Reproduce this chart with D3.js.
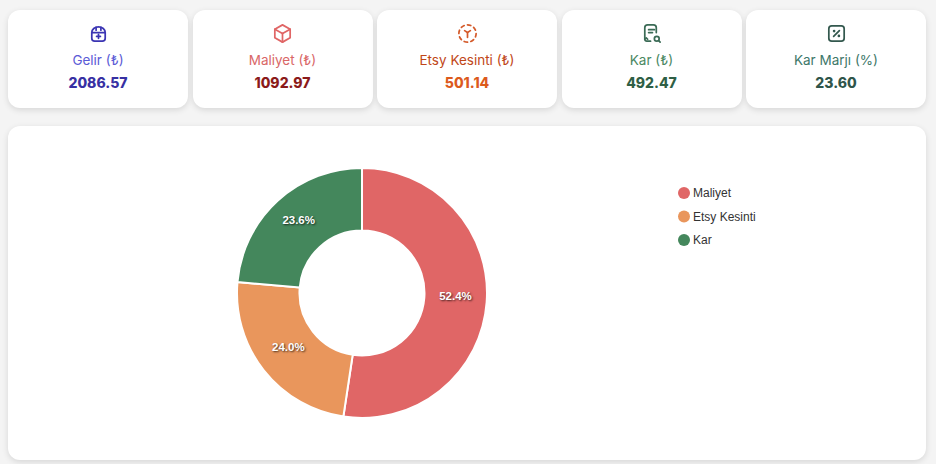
<!DOCTYPE html>
<html lang="tr">
<head>
    <meta charset="UTF-8">
    <title>Kar özeti</title>
    <script src="https://d3js.org/d3.v7.min.js"></script>
    <style>
        body { margin: 0; background: #f4f4f4; font-family: Inter, "Open Sans", sans-serif; }
        .cards { position: absolute; left: 8px; top: 10px; width: 918px; display: flex; gap: 4.5px; }
        .card { width: 180px; height: 98px; background: #fff; border-radius: 12px;
                box-shadow: 0 2px 6px rgba(0,0,0,0.12); text-align: center; }
        .card svg { display: block; margin: 12px auto 0; }
        .card .lbl { font-size: 13.5px; line-height: 16px; margin-top: 7px; }
        .card .val { font-size: 14px; line-height: 17px; font-weight: 800; margin-top: 6px; }
        .panel { position: absolute; left: 8px; top: 126px; width: 918px; height: 334px; background: #fff;
                 border-radius: 12px; box-shadow: 0 2px 6px rgba(0,0,0,0.12); }
        .pct { font: bold 11.5px "Liberation Sans", Arial, sans-serif; fill: #fff;
               text-shadow: 1px 1px 2px rgba(0,0,0,0.7); }
        .leg { font: 12px "Liberation Sans", Arial, sans-serif; fill: #333; }
    </style>
</head>
<body>
    <div class="cards"></div>
    <div class="panel"><svg width="918" height="334"></svg></div>
    <script>
        const cardLabels = ['Gelir (₺)', 'Maliyet (₺)', 'Etsy Kesinti (₺)', 'Kar (₺)', 'Kar Marjı (%)'];
        const cardValues = [2086.57, 1092.97, 501.14, 492.47, 23.60];
        const iconColors = ['#3b35b3', '#e06666', '#d45a2a', '#3b6b56', '#33584e'];
        const labelColors = ['#5b5bd6', '#d96767', '#bf4718', '#4a8862', '#3e786a'];
        const valueColors = ['#3730a3', '#8b1a1a', '#dc5a1c', '#2f5f45', '#2f554a'];

        const sliceNames = ['Maliyet', 'Etsy Kesinti', 'Kar'];
        const sliceValues = [1092.97, 501.14, 492.47];
        const sliceColors = ['#e06666', '#e9965c', '#44875c'];

        // icons, 24x24 tabler style strokes
        const icons = [
            ['M5 11a7 6 0 0 1 14 0v6a3 3 0 0 1 -3 3h-8a3 3 0 0 1 -3 -3z', 'M5 11h14', 'M9.5 8.5v-3', 'M14.5 8.5v-3', 'M12 13v4', 'M10 15h4'],
            ['M12 3l8 4.5l0 9l-8 4.5l-8 -4.5l0 -9l8 -4.5', 'M12 12l8 -4.5', 'M12 12l0 9', 'M12 12l-8 -4.5'],
            ['M8.56 3.69a9 9 0 0 0 -2.92 1.95', 'M3.69 8.56a9 9 0 0 0 -.69 3.44', 'M3.69 15.44a9 9 0 0 0 1.95 2.92',
             'M8.56 20.31a9 9 0 0 0 3.44 .69', 'M15.44 20.31a9 9 0 0 0 2.92 -1.95', 'M20.31 15.44a9 9 0 0 0 .69 -3.44',
             'M20.31 8.56a9 9 0 0 0 -1.95 -2.92', 'M15.44 3.69a9 9 0 0 0 -3.44 -.69', 'M9 9l3 2l3 -2', 'M12 11v5'],
            ['M11 20h-4a2 2 0 0 1 -2 -2v-12a3 3 0 0 1 3 -3h6a3 3 0 0 1 3 3v5', 'M9 8h6', 'M9 11h4',
             'M5 18l1.5 -1.5l1.5 1.5', 'M17.5 17.5m-2.5 0a2.5 2.5 0 1 0 5 0a2.5 2.5 0 1 0 -5 0', 'M19.5 19.5l1.5 1.5'],
            ['M4 7a3 3 0 0 1 3 -3h10a3 3 0 0 1 3 3v10a3 3 0 0 1 -3 3h-10a3 3 0 0 1 -3 -3z', 'M9 15l6 -6',
             'M9.5 9.5m-.5 0a.5 .5 0 1 0 1 0a.5 .5 0 1 0 -1 0', 'M14.5 14.5m-.5 0a.5 .5 0 1 0 1 0a.5 .5 0 1 0 -1 0']
        ];

        const cards = d3.select('.cards').selectAll('.card')
            .data(cardLabels)
            .join('div')
            .attr('class', 'card');

        cards.append('svg')
            .attr('width', 23).attr('height', 23)
            .attr('viewBox', '0 0 24 24')
            .attr('fill', 'none')
            .attr('stroke-width', 1.8)
            .attr('stroke-linecap', 'round')
            .attr('stroke-linejoin', 'round')
            .attr('stroke', (d, i) => iconColors[i])
            .selectAll('path')
            .data((d, i) => icons[i])
            .join('path')
            .attr('d', d => d);

        cards.append('div').attr('class', 'lbl')
            .style('color', (d, i) => labelColors[i])
            .text(d => d);
        cards.append('div').attr('class', 'val')
            .style('color', (d, i) => valueColors[i])
            .text((d, i) => cardValues[i].toFixed(2));

        // doughnut
        const svg = d3.select('.panel svg');
        const outerR = 125, innerR = 62.5;
        const g = svg.append('g').attr('transform', 'translate(354,167)');

        const total = d3.sum(sliceValues);
        const pie = d3.pie().sort(null).value(d => d);
        const arcs = pie(sliceValues);
        const arc = d3.arc().innerRadius(innerR).outerRadius(outerR);
        const labelArc = d3.arc().innerRadius((innerR + outerR) / 2).outerRadius((innerR + outerR) / 2);

        g.selectAll('path')
            .data(arcs)
            .join('path')
            .attr('d', arc)
            .attr('fill', (d, i) => sliceColors[i])
            .attr('stroke', '#fff')
            .attr('stroke-width', 2);

        g.selectAll('text')
            .data(arcs)
            .join('text')
            .attr('class', 'pct')
            .attr('transform', d => `translate(${labelArc.centroid(d)})`)
            .attr('text-anchor', 'middle')
            .attr('y', -4)
            .attr('dy', '0.35em')
            .text(d => (d.value / total * 100).toFixed(1) + '%');

        // legend
        const yLeg = d3.scalePoint().domain(sliceNames).range([67, 114]);
        const leg = svg.append('g').selectAll('g')
            .data(sliceNames)
            .join('g')
            .attr('transform', d => `translate(676,${yLeg(d)})`);
        leg.append('circle').attr('r', 6).attr('fill', (d, i) => sliceColors[i]);
        leg.append('text').attr('class', 'leg').attr('x', 9).attr('dy', '0.35em').text(d => d);
    </script>
</body>
</html>
